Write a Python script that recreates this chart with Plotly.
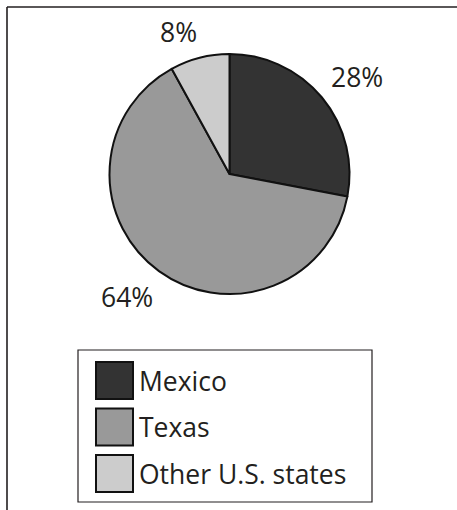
import plotly.graph_objects as go

labels = ["Mexico", "Texas", "Other U.S. states"]
values = [28, 64, 8]
colors = ["#333333", "#999999", "#cccccc"]
label_pos = [(357, 77), (127, 297), (178, 32)]  # pixel centers for % labels

W, H = 457, 510
cx, cy, r = 229.5, 174, 120

def px(x):
    return x / W

def py(y):
    return 1 - y / H

fig = go.Figure(go.Pie(
    labels=labels, values=values, sort=False, direction="clockwise", rotation=0,
    marker=dict(colors=colors, line=dict(color="#111111", width=2)),
    textinfo="none", hoverinfo="label+percent", showlegend=False,
    domain=dict(x=[px(cx - r), px(cx + r)], y=[py(cy + r), py(cy - r)]),
))

font = dict(family="Open Sans", size=26.5, color="#231f20")
ann = []
for v, (x, y) in zip(values, label_pos):
    ann.append(dict(x=px(x), y=py(y), xref="paper", yref="paper", text=f"{v}%",
                    showarrow=False, font=font, xanchor="center", yanchor="middle"))

shapes = [
    # outer frame (top and left)
    dict(type="line", xref="paper", yref="paper", x0=px(7), y0=py(7), x1=1, y1=py(7),
         line=dict(color="#231f20", width=1.6)),
    dict(type="line", xref="paper", yref="paper", x0=px(7), y0=py(7), x1=px(7), y1=0,
         line=dict(color="#231f20", width=1.6)),
    # legend box
    dict(type="rect", xref="paper", yref="paper", x0=px(78), y0=py(350), x1=px(372), y1=py(502),
         line=dict(color="#231f20", width=1.2), fillcolor="rgba(0,0,0,0)"),
]
row0, step, sw = 362, 46.5, 37
for i, (lab, col) in enumerate(zip(labels, colors)):
    top = row0 + i * step
    shapes.append(dict(type="rect", xref="paper", yref="paper", x0=px(96), x1=px(96 + sw),
                       y0=py(top), y1=py(top + sw), fillcolor=col,
                       line=dict(color="#111111", width=2)))
    ann.append(dict(x=px(137), y=py(top + sw / 2), xref="paper", yref="paper", text=lab,
                    showarrow=False, font=font, xanchor="left", yanchor="middle"))

fig.update_layout(width=W, height=H, margin=dict(l=0, r=0, t=0, b=0),
                  paper_bgcolor="white", plot_bgcolor="white",
                  annotations=ann, shapes=shapes)
fig.write_html("out.html", config={"displayModeBar": False},
               post_script="document.body.style.margin='0';")
